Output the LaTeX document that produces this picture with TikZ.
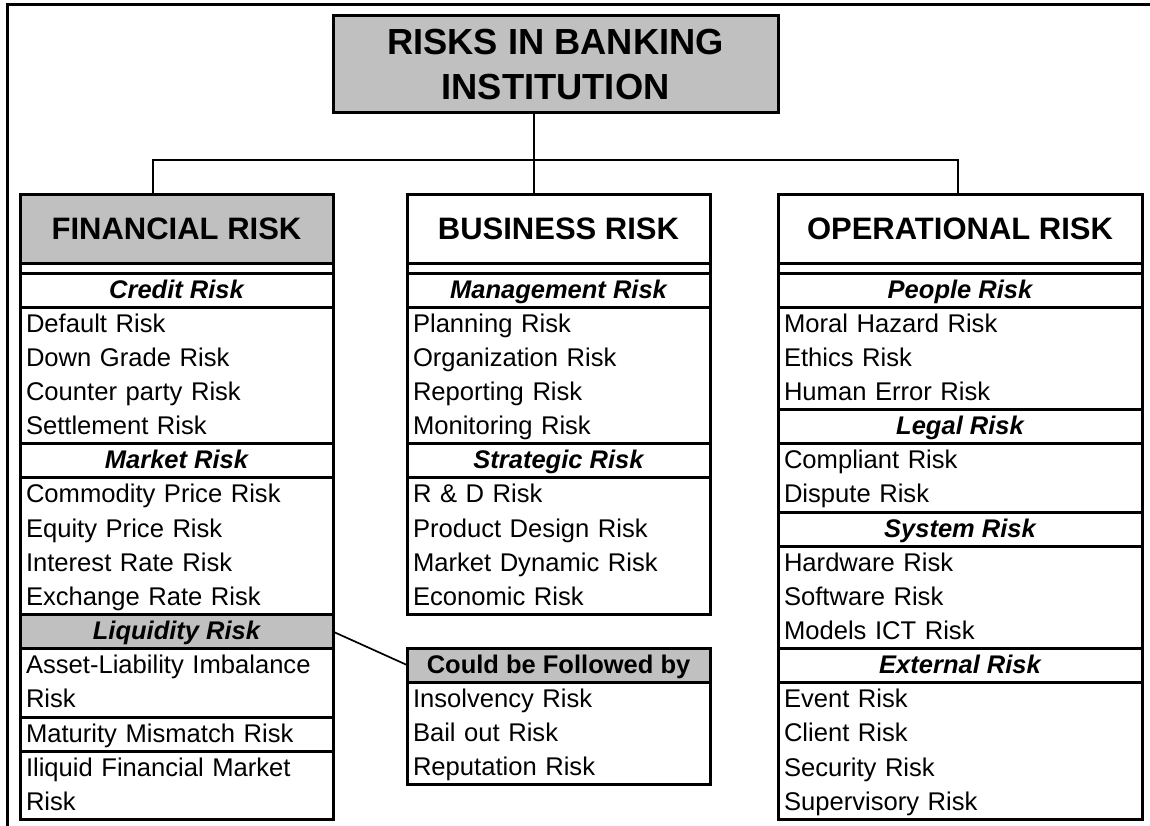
\documentclass[tikz,border=0pt]{standalone}
\usepackage{fontspec}
\setmainfont{Liberation Sans}
\definecolor{boxgray}{RGB}{192,192,192}
\newcommand{\rowstrut}{\rule[-9.2pt]{0pt}{34.2pt}}
\newcommand{\hstrut}{\rule[-7pt]{0pt}{30pt}}
\tikzset{
	cell/.style={draw, line width=3pt, anchor=north west, inner sep=0pt, outer sep=0pt},
	titlebox/.style={cell, fill=boxgray, minimum width=445pt, minimum height=97pt, align=center, font=\bfseries\fontsize{36.3}{45}\selectfont},
	colhead/.style={cell, minimum height=68pt, font=\bfseries\fontsize{31}{37}\selectfont},
	gapbox/.style={cell, minimum height=10pt},
	subhead/.style={cell, minimum height=34pt, font=\bfseries\itshape\fontsize{25.5}{34.2}\selectfont},
	itemlist/.style={cell, align=left, inner xsep=6pt, font=\fontsize{25.6}{34.2}\selectfont},
	link/.style={line width=1.7pt},
	frame/.style={line width=3pt}
}
\begin{document}
\begin{tikzpicture}[x=1pt,y=-1pt]
	\useasboundingbox (0,0) rectangle (1150,826);
	\draw[frame] (7,826) -- (7,5) -- (1150,5);

	\node[titlebox] (title) at (333,16) {RISKS IN BANKING\\INSTITUTION};

	% financial column
	\node[colhead, fill=boxgray, minimum width=313pt] (finhead) at (20,195) {FINANCIAL RISK};
	\node[gapbox, minimum width=313pt] (fingap) at (20,263) {};
	\node[subhead, minimum width=313pt] (credit) at (20,273) {\hstrut Credit Risk};
	\node[itemlist, text width=301pt] (creditlist) at (20,307) {\rowstrut Default Risk\\\rowstrut Down Grade Risk\\\rowstrut Counter party Risk\\\rowstrut Settlement Risk};
	\node[subhead, minimum width=313pt] (market) at (20,443.8) {\hstrut Market Risk};
	\node[itemlist, text width=301pt] (marketlist) at (20,477.8) {\rowstrut Commodity Price Risk\\\rowstrut Equity Price Risk\\\rowstrut Interest Rate Risk\\\rowstrut Exchange Rate Risk};
	\node[subhead, fill=boxgray, minimum width=313pt] (liqhead) at (20,614.6) {\hstrut Liquidity Risk};
	\node[itemlist, text width=301pt] (asset) at (20,648.6) {\rowstrut Asset-Liability Imbalance\\\rowstrut Risk};
	\node[itemlist, text width=301pt] (maturity) at (20,717) {\rowstrut Maturity Mismatch Risk};
	\node[itemlist, text width=301pt] (iliquid) at (20,751.2) {\rowstrut Iliquid Financial Market\\\rowstrut Risk};

	% business column
	\node[colhead, minimum width=303pt] (bushead) at (407,195) {BUSINESS RISK};
	\node[gapbox, minimum width=303pt] (busgap) at (407,263) {};
	\node[subhead, minimum width=303pt] (manage) at (407,273) {\hstrut Management Risk};
	\node[itemlist, text width=291pt] (managelist) at (407,307) {\rowstrut Planning Risk\\\rowstrut Organization Risk\\\rowstrut Reporting Risk\\\rowstrut Monitoring Risk};
	\node[subhead, minimum width=303pt] (strategic) at (407,443.8) {\hstrut Strategic Risk};
	\node[itemlist, text width=291pt] (strategiclist) at (407,477.8) {\rowstrut R \& D Risk\\\rowstrut Product Design Risk\\\rowstrut Market Dynamic Risk\\\rowstrut Economic Risk};

	\node[subhead, fill=boxgray, minimum width=303pt, font=\bfseries\fontsize{25.5}{34.2}\selectfont] (follhead) at (407,648) {\hstrut Could be Followed by};
	\node[itemlist, text width=291pt] (follist) at (407,682) {\rowstrut Insolvency Risk\\\rowstrut Bail out Risk\\\rowstrut Reputation Risk};

	% operational column
	\node[colhead, minimum width=364pt] (ophead) at (778,195) {OPERATIONAL RISK};
	\node[gapbox, minimum width=364pt] (opgap) at (778,263) {};
	\node[subhead, minimum width=364pt] (people) at (778,273) {\hstrut People Risk};
	\node[itemlist, text width=352pt] (peoplelist) at (778,307) {\rowstrut Moral Hazard Risk\\\rowstrut Ethics Risk\\\rowstrut Human Error Risk};
	\node[subhead, minimum width=364pt] (legal) at (778,409.6) {\hstrut Legal Risk};
	\node[itemlist, text width=352pt] (legallist) at (778,443.6) {\rowstrut Compliant Risk\\\rowstrut Dispute Risk};
	\node[subhead, minimum width=364pt] (system) at (778,512) {\hstrut System Risk};
	\node[itemlist, text width=352pt] (systemlist) at (778,546) {\rowstrut Hardware Risk\\\rowstrut Software Risk\\\rowstrut Models ICT Risk};
	\node[subhead, minimum width=364pt] (external) at (778,648.6) {\hstrut External Risk};
	\node[itemlist, text width=352pt] (externallist) at (778,682.6) {\rowstrut Event Risk\\\rowstrut Client Risk\\\rowstrut Security Risk\\\rowstrut Supervisory Risk};

	\coordinate (fork) at (534,160);
	\draw[link] (title.south -| fork) -- (fork |- bushead.north);
	\draw[link] ([xshift=-23.5pt]finhead.north) |- (fork) -| ([xshift=-2pt]ophead.north);
	\draw[link] (liqhead.east) -- (follhead.west);
\end{tikzpicture}
\end{document}
